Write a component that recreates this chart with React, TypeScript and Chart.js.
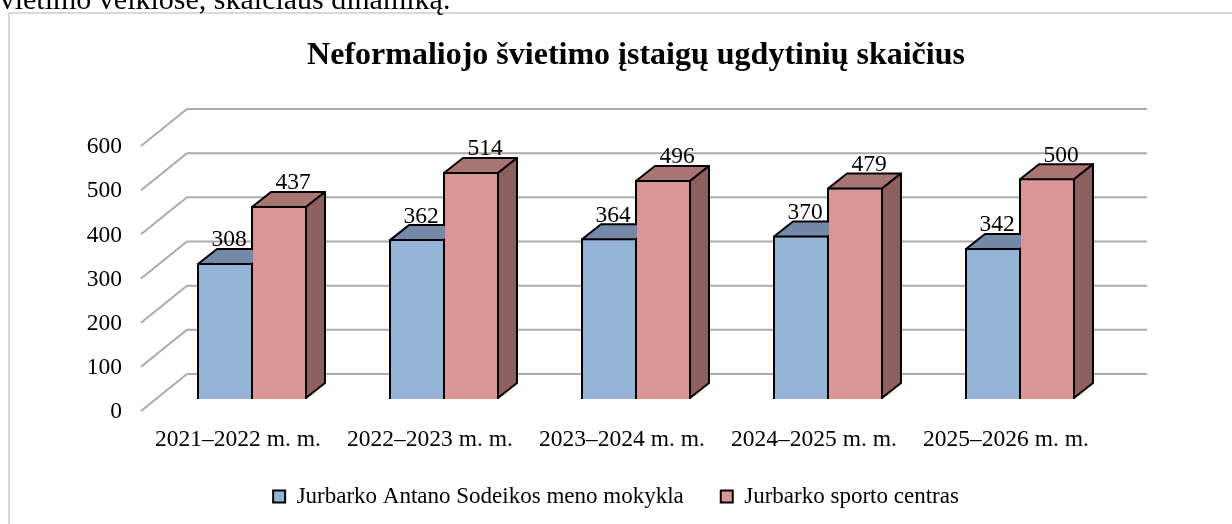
import React, { useEffect, useRef } from 'react';
import { Chart, registerables } from 'chart.js';

Chart.register(...registerables);

const categories = ['2021–2022 m. m.', '2022–2023 m. m.', '2023–2024 m. m.', '2024–2025 m. m.', '2025–2026 m. m.'];
const seriesNames = ['Jurbarko Antano Sodeikos meno mokykla', 'Jurbarko sporto centras'];
const menoMokykla = [308, 362, 364, 370, 342];
const sportoCentras = [437, 514, 496, 479, 500];
const yMin = 0;
const yMax = 600;
const yStep = 100;
const titleText = 'Neformaliojo švietimo įstaigų ugdytinių skaičius';
const pageText = 'švietimo veiklose, skaičiaus dinamiką.';

const FONT_FAMILY = "'Liberation Serif', 'Times New Roman', serif";
const FRONT = { dx: -15, dy: 12 };
const BACK = { dx: 31, dy: -25 };
const DEPTH = { dx: 19, dy: -15 };
const frontColors = ['#95B3D7', '#D99694'];
const topColors = ['#7488A8', '#A87572'];
const sideColors = ['#6F84A3', '#8E5F5C'];
const labelShift = [4, 14];

const bars3d = {
  id: 'bars3d',
  beforeDraw(chart: any) {
    const ctx = chart.ctx;
    ctx.save();
    ctx.fillStyle = '#ffffff';
    ctx.fillRect(0, 0, chart.width, chart.height);
    ctx.strokeStyle = '#D9D9D9';
    ctx.lineWidth = 2;
    ctx.strokeRect(9, 13, chart.width + 40, chart.height + 40);
    ctx.restore();
  },
  beforeDatasetsDraw(chart: any) {
    const { ctx, chartArea } = chart;
    const y = chart.scales.y;
    ctx.save();
    ctx.strokeStyle = '#ABABAB';
    ctx.lineWidth = 2;
    y.ticks.forEach((t: any) => {
      const py = y.getPixelForValue(t.value);
      ctx.beginPath();
      ctx.moveTo(chartArea.left + FRONT.dx, py + FRONT.dy);
      ctx.lineTo(chartArea.left + BACK.dx, py + BACK.dy);
      ctx.lineTo(chartArea.right + BACK.dx, py + BACK.dy);
      ctx.stroke();
    });
    ctx.restore();
  },
  afterDatasetDraw(chart: any, args: any) {
    const di = args.index;
    const meta = chart.getDatasetMeta(di);
    const ctx = chart.ctx;
    const base = chart.scales.y.getPixelForValue(0);
    const isLast = di === chart.data.datasets.length - 1;
    meta.data.forEach((bar: any) => {
      const x0 = bar.x - bar.width / 2 + 1;
      const x1 = bar.x + bar.width / 2 - 1;
      const top = bar.y + 1;
      ctx.save();
      ctx.lineWidth = 2;
      ctx.strokeStyle = '#000000';
      ctx.lineJoin = 'round';
      if (!isLast) {
        ctx.beginPath();
        ctx.rect(0, 0, x1 + 1, chart.height);
        ctx.clip();
      }
      ctx.beginPath();
      ctx.moveTo(x0, top);
      ctx.lineTo(x0 + DEPTH.dx, top + DEPTH.dy);
      ctx.lineTo(x1 + DEPTH.dx, top + DEPTH.dy);
      ctx.lineTo(x1, top);
      ctx.closePath();
      ctx.fillStyle = topColors[di];
      ctx.fill();
      ctx.stroke();
      if (isLast) {
        ctx.beginPath();
        ctx.moveTo(x1, top);
        ctx.lineTo(x1 + DEPTH.dx, top + DEPTH.dy);
        ctx.lineTo(x1 + DEPTH.dx, base - 1 + DEPTH.dy);
        ctx.lineTo(x1, base - 1);
        ctx.closePath();
        ctx.fillStyle = sideColors[di];
        ctx.fill();
        ctx.stroke();
      }
      ctx.restore();
    });
  },
  afterDatasetsDraw(chart: any) {
    const ctx = chart.ctx;
    ctx.save();
    ctx.fillStyle = '#000000';
    ctx.font = `23.5px ${FONT_FAMILY}`;
    ctx.textAlign = 'center';
    ctx.textBaseline = 'alphabetic';
    chart.data.datasets.forEach((ds: any, di: number) => {
      const meta = chart.getDatasetMeta(di);
      meta.data.forEach((bar: any, i: number) => {
        ctx.fillText(String(ds.data[i]), bar.x + labelShift[di], bar.y - 16.5);
      });
    });
    ctx.restore();
  },
};

export default function App() {
  const canvasRef = useRef<HTMLCanvasElement | null>(null);

  useEffect(() => {
    const canvas = canvasRef.current;
    if (!canvas) return;
    const tickFont = { family: FONT_FAMILY, size: 23.5 };
    const legendFont = { family: FONT_FAMILY, size: 23 };
    const chart = new Chart(canvas, {
      type: 'bar',
      data: {
        labels: categories,
        datasets: [
          {
            label: seriesNames[0],
            data: menoMokykla,
            backgroundColor: frontColors[0],
            borderColor: '#000000',
            borderWidth: 2,
            categoryPercentage: 0.5625,
            barPercentage: 1.037,
          },
          {
            label: seriesNames[1],
            data: sportoCentras,
            backgroundColor: frontColors[1],
            borderColor: '#000000',
            borderWidth: 2,
            categoryPercentage: 0.5625,
            barPercentage: 1.037,
          },
        ],
      },
      options: {
        responsive: false,
        animation: false,
        devicePixelRatio: 1,
        layout: { padding: { left: 0, right: 0, top: 0, bottom: 6 } },
        scales: {
          x: {
            grid: { display: false, drawTicks: false },
            border: { display: false },
            ticks: { font: tickFont, color: '#000000', padding: 27, labelOffset: -14, maxRotation: 0, autoSkip: false },
            afterFit: (s: any) => { s.height = 49; },
          },
          y: {
            min: yMin,
            max: yMax,
            grid: { display: false, drawTicks: false },
            border: { display: false },
            ticks: { stepSize: yStep, font: tickFont, color: '#000000', padding: 34, labelOffset: 13 },
            afterFit: (s: any) => { s.width = 156; },
          },
          yRight: {
            type: 'linear',
            position: 'right',
            display: true,
            grid: { display: false, drawTicks: false },
            border: { display: false },
            ticks: { display: false },
            afterFit: (s: any) => { s.width = 116; },
          },
        },
        plugins: {
          title: {
            display: true,
            text: titleText,
            fullSize: false,
            color: '#000000',
            font: { family: FONT_FAMILY, size: 32, weight: 'bold' },
            padding: { top: 37, bottom: 58.6 },
          },
          legend: {
            position: 'bottom',
            labels: {
              font: legendFont,
              color: '#000000',
              boxWidth: 12,
              boxHeight: 12,
              padding: 37,
            },
          },
          tooltip: { enabled: false },
        },
      } as any,
      plugins: [bars3d],
    });
    return () => chart.destroy();
  }, []);

  return (
    <div style={{ position: 'fixed', left: 0, top: 0, width: 1232, height: 524, overflow: 'hidden', background: '#fff' }}>
      <canvas ref={canvasRef} width={1232} height={524} style={{ display: 'block', position: 'absolute', left: 0, top: 0 }} />
      <div
        style={{
          position: 'absolute',
          left: -12,
          top: -16,
          fontFamily: FONT_FAMILY,
          fontSize: 30,
          lineHeight: '30px',
          whiteSpace: 'nowrap',
          color: '#000',
        }}
      >
        {pageText}
      </div>
    </div>
  );
}
